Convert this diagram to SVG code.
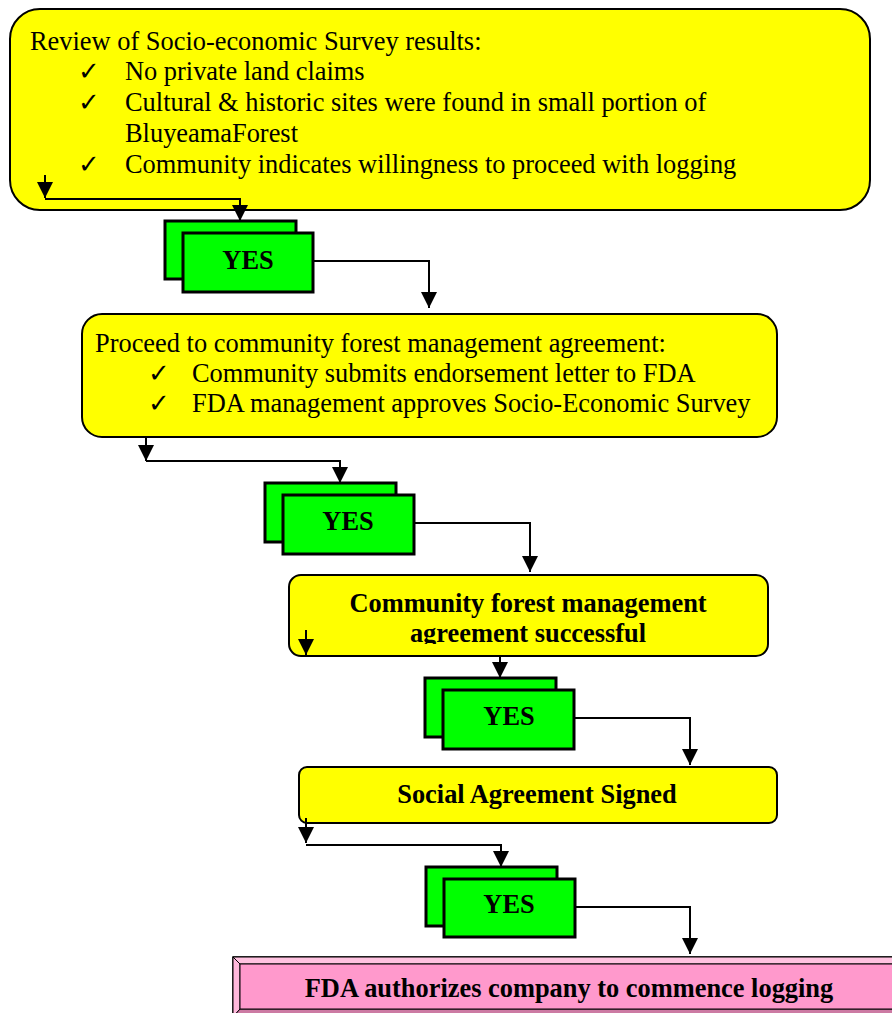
<svg xmlns="http://www.w3.org/2000/svg" width="892" height="1013" viewBox="0 0 892 1013">
<defs>
<style>
.yb{fill:#FFFF00;stroke:#000;stroke-width:2}
.g{fill:#00FF00;stroke:#000;stroke-width:3}
.t{font-family:"Liberation Serif","Times New Roman",serif;font-size:26.4px;fill:#000}
.b{font-family:"Liberation Serif","Times New Roman",serif;font-size:26.4px;font-weight:bold;fill:#000}
.c{fill:none;stroke:#000;stroke-width:2;marker-end:url(#ah)}
</style>
<marker id="ah" viewBox="0 0 16 16" refX="16" refY="8" markerWidth="16" markerHeight="16" markerUnits="userSpaceOnUse" orient="auto">
<path d="M0,0 L16,8 L0,16 z" fill="#000"/>
</marker>
<clipPath id="clip3"><rect x="289" y="575" width="480" height="69"/></clipPath>
</defs>
<g id="n1">
<rect class="yb" x="10" y="9" width="860" height="201" rx="30" ry="30"/>
<text class="t" x="30" y="50">Review of Socio-economic Survey results:</text>
<text class="t" x="78" y="80">✓</text><text class="t" x="125" y="80">No private land claims</text>
<text class="t" x="78" y="111">✓</text><text class="t" x="125" y="111">Cultural &amp; historic sites were found in small portion of</text>
<text class="t" x="125" y="142">BluyeamaForest</text>
<text class="t" x="78" y="173">✓</text><text class="t" x="125" y="173">Community indicates willingness to proceed with logging</text>
</g>
<g id="y1">
<rect class="g" x="165" y="221" width="131" height="58"/>
<rect class="g" x="183" y="233" width="130" height="59"/>
<text class="b" x="248" y="269" text-anchor="middle">YES</text>
</g>
<g id="n2">
<rect class="yb" x="82" y="314" width="695" height="123" rx="20" ry="20"/>
<text class="t" x="95" y="352">Proceed to community forest management agreement:</text>
<text class="t" x="148" y="382">✓</text><text class="t" x="192" y="382">Community submits endorsement letter to FDA</text>
<text class="t" x="148" y="412">✓</text><text class="t" x="192" y="412">FDA management approves Socio-Economic Survey</text>
</g>
<g id="y2">
<rect class="g" x="265" y="483" width="131" height="59"/>
<rect class="g" x="283" y="495" width="131" height="59"/>
<text class="b" x="348" y="530" text-anchor="middle">YES</text>
</g>
<g id="n3">
<rect class="yb" x="289" y="575" width="479" height="81" rx="12" ry="12"/>
<g clip-path="url(#clip3)">
<text class="b" x="528" y="612" text-anchor="middle">Community forest management</text>
<text class="b" x="528" y="642" text-anchor="middle">agreement successful</text>
</g>
</g>
<g id="y3">
<rect class="g" x="425" y="678" width="131" height="59"/>
<rect class="g" x="443" y="690" width="131" height="59"/>
<text class="b" x="509" y="725" text-anchor="middle">YES</text>
</g>
<g id="n4">
<rect class="yb" x="299" y="767" width="478" height="56" rx="8" ry="8"/>
<text class="b" x="537" y="803" text-anchor="middle">Social Agreement Signed</text>
</g>
<g id="y4">
<rect class="g" x="426" y="867" width="131" height="59"/>
<rect class="g" x="444" y="879" width="131" height="58"/>
<text class="b" x="509" y="913" text-anchor="middle">YES</text>
</g>
<g id="n5">
<rect x="233" y="957" width="700" height="60" fill="#FF99CC" stroke="#000" stroke-width="1.5"/>
<polygon points="233,957 933,957 933,964 240,964" fill="#FFC2E0" stroke="#000" stroke-width="1"/>
<polygon points="233,957 240,964 240,1009 233,1017" fill="#FFB8DB" stroke="#000" stroke-width="1"/>
<polygon points="233,1017 240,1009 933,1009 933,1017" fill="#CC7AA3" stroke="#000" stroke-width="1"/>
<rect x="240" y="964" width="693" height="45" fill="#FF99CC" stroke="#000" stroke-width="1"/>
<text class="b" x="569" y="997" text-anchor="middle">FDA authorizes company to commence logging</text>
</g>
<g id="connectors">
<path class="c" d="M45,175 V198"/>
<path class="c" d="M45,199 H240 V221"/>
<path class="c" d="M313,261 H429 V308"/>
<path class="c" d="M146,437 V461"/>
<path class="c" d="M146,461 H340 V483"/>
<path class="c" d="M414,523 H530 V572"/>
<path class="c" d="M306,630 V655"/>
<path class="c" d="M306,656 H500 V678"/>
<path class="c" d="M574,718 H690 V765"/>
<path class="c" d="M306,818 V843"/>
<path class="c" d="M306,845 H501 V867"/>
<path class="c" d="M575,907 H690 V954"/>
</g>
</svg>
